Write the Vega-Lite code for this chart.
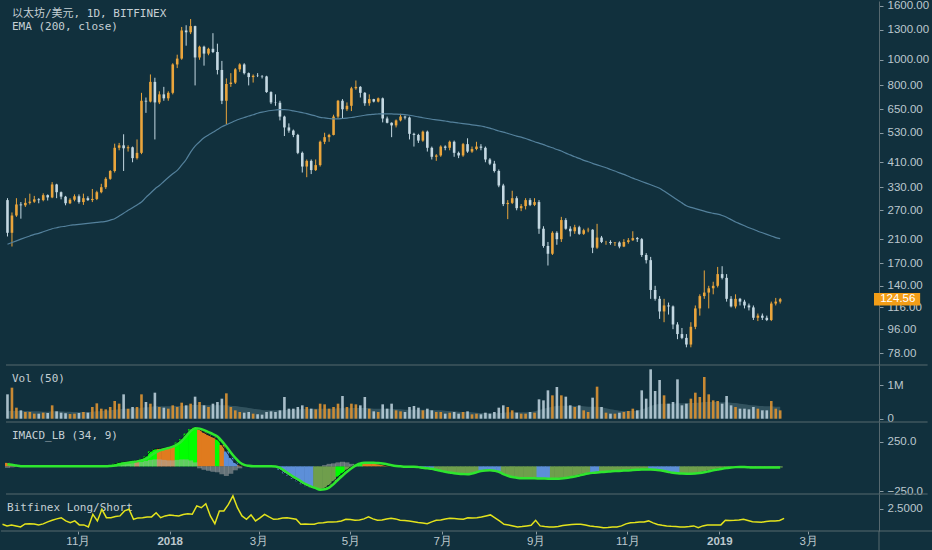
{
  "$schema": "https://vega.github.io/schema/vega-lite/v6.json",
  "background": "#11303d",
  "padding": {"left": 0, "top": -1, "right": 0, "bottom": 0},
  "spacing": 0,
  "bounds": "flush",
  "config": {
    "view": {"stroke": null},
    "axis": {"grid": false, "domain": true, "domainColor": "#56686f", "labelColor": "#bcc8ce", "labelFont": "Liberation Sans", "labelFontSize": 11.5, "tickColor": "#8a9aa2", "tickSize": 4, "labelPadding": 4, "title": null},
    "rule": {"color": "#56686f", "strokeWidth": 1},
    "text": {"font": "DejaVu Sans Mono, Noto Sans CJK SC", "fontSize": 11, "color": "#c5cfd4"}
  },
  "data": {"values": [
    {"d":"2017-09-12","o":295,"hi":300,"lo":215,"c":222,"v":0.73,"vm":0.22,"e":201,"m":35,"s":20,"g":-15,"k":"O","ls":1.72},
    {"d":"2017-09-15","o":222,"hi":265,"lo":197,"c":258,"v":0.93,"vm":0.23,"e":204,"m":20,"s":15,"g":-10,"k":"O","ls":1.64},
    {"d":"2017-09-18","o":258,"hi":300,"lo":255,"c":284,"v":0.33,"vm":0.23,"e":207,"m":5,"s":8,"g":-5,"k":"O","ls":1.69},
    {"d":"2017-09-21","o":284,"hi":290,"lo":251,"c":282,"v":0.25,"vm":0.23,"e":210,"m":0,"s":2,"g":0,"k":"L","ls":1.64},
    {"d":"2017-09-24","o":282,"hi":300,"lo":278,"c":288,"v":0.2,"vm":0.23,"e":213,"m":0,"s":0,"g":0,"k":"L","ls":1.59},
    {"d":"2017-09-27","o":288,"hi":312,"lo":284,"c":291,"v":0.2,"vm":0.23,"e":216,"m":0,"s":0,"g":0,"k":"L","ls":1.74},
    {"d":"2017-09-30","o":291,"hi":306,"lo":288,"c":297,"v":0.15,"vm":0.22,"e":219,"m":0,"s":0,"g":0,"k":"L","ls":1.75},
    {"d":"2017-10-03","o":297,"hi":300,"lo":287,"c":295,"v":0.15,"vm":0.22,"e":221,"m":0,"s":0,"g":0,"k":"L","ls":1.74},
    {"d":"2017-10-06","o":295,"hi":313,"lo":292,"c":308,"v":0.18,"vm":0.21,"e":224,"m":0,"s":0,"g":0,"k":"L","ls":1.69},
    {"d":"2017-10-09","o":308,"hi":310,"lo":294,"c":302,"v":0.17,"vm":0.21,"e":227,"m":0,"s":0,"g":0,"k":"L","ls":1.74},
    {"d":"2017-10-12","o":302,"hi":345,"lo":300,"c":338,"v":0.4,"vm":0.22,"e":230,"m":0,"s":0,"g":0,"k":"L","ls":1.84},
    {"d":"2017-10-15","o":338,"hi":340,"lo":300,"c":316,"v":0.22,"vm":0.22,"e":232,"m":0,"s":0,"g":0,"k":"L","ls":1.92},
    {"d":"2017-10-18","o":316,"hi":318,"lo":297,"c":304,"v":0.18,"vm":0.22,"e":234,"m":0,"s":0,"g":0,"k":"L","ls":1.99},
    {"d":"2017-10-21","o":304,"hi":306,"lo":282,"c":287,"v":0.16,"vm":0.21,"e":235,"m":0,"s":0,"g":0,"k":"L","ls":2.05},
    {"d":"2017-10-24","o":287,"hi":300,"lo":285,"c":296,"v":0.14,"vm":0.21,"e":237,"m":0,"s":0,"g":0,"k":"L","ls":1.89},
    {"d":"2017-10-27","o":296,"hi":310,"lo":292,"c":305,"v":0.15,"vm":0.2,"e":238,"m":0,"s":0,"g":0,"k":"L","ls":1.8},
    {"d":"2017-10-30","o":305,"hi":310,"lo":286,"c":290,"v":0.17,"vm":0.2,"e":239,"m":0,"s":0,"g":0,"k":"L","ls":1.89},
    {"d":"2017-11-02","o":290,"hi":312,"lo":283,"c":300,"v":0.2,"vm":0.2,"e":240,"m":0,"s":0,"g":0,"k":"L","ls":1.69},
    {"d":"2017-11-05","o":300,"hi":305,"lo":293,"c":295,"v":0.18,"vm":0.2,"e":241,"m":0,"s":0,"g":0,"k":"L","ls":1.69},
    {"d":"2017-11-08","o":295,"hi":325,"lo":290,"c":298,"v":0.35,"vm":0.21,"e":242,"m":0,"s":0,"g":0,"k":"L","ls":1.59},
    {"d":"2017-11-11","o":298,"hi":320,"lo":295,"c":316,"v":0.46,"vm":0.22,"e":243,"m":0,"s":0,"g":0,"k":"L","ls":2.22},
    {"d":"2017-11-14","o":316,"hi":340,"lo":313,"c":330,"v":0.3,"vm":0.23,"e":244,"m":0,"s":0,"g":0,"k":"L","ls":1.89},
    {"d":"2017-11-17","o":330,"hi":360,"lo":325,"c":355,"v":0.28,"vm":0.24,"e":245,"m":0,"s":0,"g":0,"k":"L","ls":2.47},
    {"d":"2017-11-20","o":355,"hi":383,"lo":352,"c":380,"v":0.35,"vm":0.25,"e":248,"m":5,"s":3,"g":2,"k":"L","ls":2.05},
    {"d":"2017-11-23","o":380,"hi":482,"lo":375,"c":465,"v":0.53,"vm":0.27,"e":251,"m":25,"s":8,"g":10,"k":"L","ls":2.05},
    {"d":"2017-11-26","o":465,"hi":485,"lo":455,"c":475,"v":0.45,"vm":0.28,"e":257,"m":40,"s":18,"g":20,"k":"L","ls":2.11},
    {"d":"2017-11-29","o":475,"hi":523,"lo":380,"c":463,"v":0.73,"vm":0.3,"e":263,"m":45,"s":28,"g":25,"k":"L","ls":2.14},
    {"d":"2017-12-02","o":463,"hi":475,"lo":450,"c":467,"v":0.3,"vm":0.3,"e":270,"m":50,"s":36,"g":30,"k":"L","ls":2.39},
    {"d":"2017-12-05","o":467,"hi":470,"lo":410,"c":425,"v":0.35,"vm":0.31,"e":276,"m":55,"s":44,"g":35,"k":"L","ls":2.47},
    {"d":"2017-12-08","o":425,"hi":500,"lo":420,"c":445,"v":0.35,"vm":0.31,"e":283,"m":60,"s":50,"g":40,"k":"O","ls":1.97},
    {"d":"2017-12-11","o":445,"hi":750,"lo":440,"c":700,"v":0.73,"vm":0.33,"e":290,"m":75,"s":60,"g":45,"k":"L","ls":2.04},
    {"d":"2017-12-14","o":700,"hi":720,"lo":630,"c":695,"v":0.5,"vm":0.34,"e":302,"m":100,"s":75,"g":55,"k":"L","ls":2.05},
    {"d":"2017-12-17","o":695,"hi":880,"lo":690,"c":825,"v":0.45,"vm":0.35,"e":313,"m":150,"s":105,"g":65,"k":"L","ls":2.09},
    {"d":"2017-12-20","o":825,"hi":855,"lo":500,"c":690,"v":0.78,"vm":0.37,"e":325,"m":175,"s":135,"g":70,"k":"L","ls":2.09},
    {"d":"2017-12-23","o":690,"hi":760,"lo":680,"c":740,"v":0.35,"vm":0.37,"e":335,"m":180,"s":158,"g":70,"k":"O","ls":2.3},
    {"d":"2017-12-26","o":740,"hi":790,"lo":700,"c":715,"v":0.33,"vm":0.37,"e":347,"m":185,"s":172,"g":65,"k":"O","ls":2.05},
    {"d":"2017-12-29","o":715,"hi":760,"lo":700,"c":750,"v":0.3,"vm":0.37,"e":359,"m":195,"s":185,"g":60,"k":"O","ls":2.14},
    {"d":"2018-01-01","o":750,"hi":970,"lo":740,"c":960,"v":0.4,"vm":0.38,"e":371,"m":205,"s":198,"g":60,"k":"O","ls":2.19},
    {"d":"2018-01-04","o":960,"hi":1045,"lo":930,"c":1010,"v":0.35,"vm":0.38,"e":382,"m":240,"s":220,"g":65,"k":"L","ls":2.16},
    {"d":"2018-01-07","o":1010,"hi":1330,"lo":1000,"c":1290,"v":0.48,"vm":0.39,"e":400,"m":275,"s":255,"g":70,"k":"L","ls":2.14},
    {"d":"2018-01-10","o":1290,"hi":1350,"lo":1130,"c":1270,"v":0.4,"vm":0.39,"e":420,"m":330,"s":305,"g":70,"k":"L","ls":2.21},
    {"d":"2018-01-13","o":1270,"hi":1425,"lo":1250,"c":1340,"v":0.45,"vm":0.4,"e":448,"m":375,"s":355,"g":60,"k":"L","ls":2.25},
    {"d":"2018-01-16","o":1340,"hi":1345,"lo":800,"c":1020,"v":0.66,"vm":0.41,"e":472,"m":395,"s":385,"g":40,"k":"L","ls":2.22},
    {"d":"2018-01-19","o":1020,"hi":1130,"lo":1000,"c":1120,"v":0.5,"vm":0.41,"e":490,"m":370,"s":380,"g":-20,"k":"O","ls":2.64},
    {"d":"2018-01-22","o":1120,"hi":1130,"lo":950,"c":1055,"v":0.4,"vm":0.41,"e":507,"m":340,"s":365,"g":-35,"k":"O","ls":2.55},
    {"d":"2018-01-25","o":1055,"hi":1110,"lo":1040,"c":1100,"v":0.35,"vm":0.4,"e":520,"m":315,"s":345,"g":-45,"k":"O","ls":2.75},
    {"d":"2018-01-28","o":1100,"hi":1260,"lo":1060,"c":1070,"v":0.45,"vm":0.4,"e":532,"m":295,"s":325,"g":-55,"k":"O","ls":2.14},
    {"d":"2018-01-31","o":1070,"hi":1150,"lo":880,"c":915,"v":0.5,"vm":0.4,"e":545,"m":270,"s":300,"g":-60,"k":"L","ls":1.75},
    {"d":"2018-02-03","o":915,"hi":990,"lo":680,"c":700,"v":0.6,"vm":0.4,"e":558,"m":215,"s":255,"g":-80,"k":"O","ls":2.39},
    {"d":"2018-02-06","o":700,"hi":850,"lo":570,"c":810,"v":0.76,"vm":0.4,"e":568,"m":150,"s":200,"g":-97,"k":"B","ls":2.39},
    {"d":"2018-02-09","o":810,"hi":890,"lo":790,"c":820,"v":0.35,"vm":0.39,"e":578,"m":85,"s":140,"g":-75,"k":"B","ls":2.72},
    {"d":"2018-02-12","o":820,"hi":930,"lo":810,"c":920,"v":0.25,"vm":0.38,"e":588,"m":35,"s":85,"g":-40,"k":"B","ls":3.14},
    {"d":"2018-02-15","o":920,"hi":970,"lo":900,"c":960,"v":0.2,"vm":0.36,"e":597,"m":10,"s":40,"g":-20,"k":"O","ls":2.55},
    {"d":"2018-02-18","o":960,"hi":970,"lo":880,"c":890,"v":0.18,"vm":0.34,"e":605,"m":0,"s":15,"g":-5,"k":"L","ls":2.14},
    {"d":"2018-02-21","o":890,"hi":895,"lo":800,"c":860,"v":0.2,"vm":0.32,"e":613,"m":0,"s":5,"g":0,"k":"L","ls":1.97},
    {"d":"2018-02-24","o":860,"hi":880,"lo":820,"c":870,"v":0.15,"vm":0.3,"e":620,"m":0,"s":0,"g":0,"k":"L","ls":2.19},
    {"d":"2018-02-27","o":870,"hi":890,"lo":860,"c":868,"v":0.13,"vm":0.28,"e":628,"m":0,"s":0,"g":0,"k":"L","ls":1.89},
    {"d":"2018-03-02","o":868,"hi":875,"lo":850,"c":865,"v":0.12,"vm":0.26,"e":634,"m":0,"s":0,"g":0,"k":"L","ls":2.04},
    {"d":"2018-03-05","o":865,"hi":870,"lo":750,"c":755,"v":0.2,"vm":0.25,"e":639,"m":0,"s":0,"g":0,"k":"L","ls":2.22},
    {"d":"2018-03-08","o":755,"hi":760,"lo":680,"c":690,"v":0.22,"vm":0.25,"e":643,"m":0,"s":0,"g":0,"k":"L","ls":2.09},
    {"d":"2018-03-11","o":690,"hi":740,"lo":670,"c":688,"v":0.2,"vm":0.25,"e":646,"m":-5,"s":-2,"g":0,"k":"B","ls":1.97},
    {"d":"2018-03-14","o":688,"hi":700,"lo":590,"c":610,"v":0.25,"vm":0.25,"e":648,"m":-35,"s":-15,"g":0,"k":"B","ls":1.99},
    {"d":"2018-03-17","o":610,"hi":615,"lo":515,"c":555,"v":0.65,"vm":0.26,"e":648,"m":-70,"s":-45,"g":0,"k":"B","ls":2.04},
    {"d":"2018-03-20","o":555,"hi":575,"lo":530,"c":540,"v":0.3,"vm":0.27,"e":646,"m":-95,"s":-75,"g":0,"k":"B","ls":2.05},
    {"d":"2018-03-23","o":540,"hi":545,"lo":510,"c":520,"v":0.3,"vm":0.27,"e":641,"m":-125,"s":-105,"g":0,"k":"B","ls":2.01},
    {"d":"2018-03-26","o":520,"hi":525,"lo":440,"c":445,"v":0.35,"vm":0.28,"e":636,"m":-150,"s":-130,"g":0,"k":"B","ls":1.97},
    {"d":"2018-03-29","o":445,"hi":450,"lo":375,"c":395,"v":0.4,"vm":0.29,"e":631,"m":-180,"s":-160,"g":0,"k":"B","ls":1.72},
    {"d":"2018-04-01","o":395,"hi":420,"lo":360,"c":415,"v":0.35,"vm":0.3,"e":626,"m":-200,"s":-185,"g":0,"k":"B","ls":1.74},
    {"d":"2018-04-04","o":415,"hi":420,"lo":370,"c":383,"v":0.3,"vm":0.3,"e":619,"m":-215,"s":-205,"g":0,"k":"B","ls":1.72},
    {"d":"2018-04-07","o":383,"hi":420,"lo":380,"c":400,"v":0.28,"vm":0.3,"e":613,"m":-225,"s":-220,"g":0,"k":"G","ls":1.72},
    {"d":"2018-04-10","o":400,"hi":495,"lo":395,"c":490,"v":0.45,"vm":0.3,"e":606,"m":-235,"s":-235,"g":0,"k":"G","ls":1.79},
    {"d":"2018-04-13","o":490,"hi":530,"lo":480,"c":510,"v":0.43,"vm":0.3,"e":603,"m":-220,"s":-232,"g":12,"k":"G","ls":1.8},
    {"d":"2018-04-16","o":510,"hi":525,"lo":490,"c":520,"v":0.3,"vm":0.3,"e":600,"m":-190,"s":-215,"g":25,"k":"G","ls":1.84},
    {"d":"2018-04-19","o":520,"hi":620,"lo":518,"c":610,"v":0.35,"vm":0.3,"e":598,"m":-150,"s":-180,"g":30,"k":"G","ls":1.84},
    {"d":"2018-04-22","o":610,"hi":705,"lo":600,"c":700,"v":0.45,"vm":0.31,"e":598,"m":-105,"s":-135,"g":40,"k":"L","ls":1.85},
    {"d":"2018-04-25","o":700,"hi":710,"lo":600,"c":650,"v":0.68,"vm":0.31,"e":600,"m":-70,"s":-95,"g":46,"k":"L","ls":1.89},
    {"d":"2018-04-28","o":650,"hi":690,"lo":640,"c":670,"v":0.35,"vm":0.31,"e":602,"m":-35,"s":-55,"g":40,"k":"G","ls":1.97},
    {"d":"2018-05-01","o":670,"hi":790,"lo":640,"c":780,"v":0.45,"vm":0.32,"e":605,"m":-5,"s":-20,"g":25,"k":"G","ls":1.96},
    {"d":"2018-05-04","o":780,"hi":835,"lo":770,"c":790,"v":0.43,"vm":0.32,"e":609,"m":20,"s":10,"g":12,"k":"L","ls":1.92},
    {"d":"2018-05-07","o":790,"hi":795,"lo":720,"c":750,"v":0.4,"vm":0.32,"e":613,"m":35,"s":28,"g":7,"k":"L","ls":1.94},
    {"d":"2018-05-10","o":750,"hi":755,"lo":670,"c":685,"v":0.65,"vm":0.32,"e":617,"m":38,"s":35,"g":0,"k":"O","ls":1.99},
    {"d":"2018-05-13","o":685,"hi":740,"lo":670,"c":710,"v":0.3,"vm":0.31,"e":620,"m":35,"s":37,"g":0,"k":"O","ls":2.09},
    {"d":"2018-05-16","o":710,"hi":712,"lo":690,"c":695,"v":0.22,"vm":0.3,"e":622,"m":30,"s":36,"g":0,"k":"O","ls":1.99},
    {"d":"2018-05-19","o":695,"hi":720,"lo":690,"c":715,"v":0.2,"vm":0.3,"e":624,"m":25,"s":33,"g":0,"k":"O","ls":1.92},
    {"d":"2018-05-22","o":715,"hi":720,"lo":580,"c":600,"v":0.43,"vm":0.3,"e":625,"m":15,"s":28,"g":0,"k":"O","ls":1.94},
    {"d":"2018-05-25","o":600,"hi":610,"lo":575,"c":578,"v":0.3,"vm":0.3,"e":625,"m":5,"s":20,"g":0,"k":"O","ls":1.99},
    {"d":"2018-05-28","o":578,"hi":580,"lo":510,"c":565,"v":0.45,"vm":0.3,"e":624,"m":0,"s":10,"g":0,"k":"L","ls":2.02},
    {"d":"2018-05-31","o":565,"hi":595,"lo":555,"c":590,"v":0.25,"vm":0.29,"e":623,"m":0,"s":3,"g":0,"k":"L","ls":1.99},
    {"d":"2018-06-03","o":590,"hi":625,"lo":585,"c":610,"v":0.22,"vm":0.28,"e":622,"m":0,"s":0,"g":0,"k":"L","ls":1.92},
    {"d":"2018-06-06","o":610,"hi":615,"lo":595,"c":605,"v":0.2,"vm":0.27,"e":621,"m":-5,"s":-3,"g":0,"k":"B","ls":1.91},
    {"d":"2018-06-09","o":605,"hi":610,"lo":500,"c":525,"v":0.35,"vm":0.27,"e":617,"m":-5,"s":-3,"g":0,"k":"B","ls":1.89},
    {"d":"2018-06-12","o":525,"hi":530,"lo":470,"c":520,"v":0.38,"vm":0.27,"e":613,"m":-5,"s":-3,"g":0,"k":"B","ls":1.85},
    {"d":"2018-06-15","o":520,"hi":525,"lo":485,"c":495,"v":0.33,"vm":0.27,"e":608,"m":-15,"s":-8,"g":0,"k":"B","ls":1.81},
    {"d":"2018-06-18","o":495,"hi":540,"lo":490,"c":535,"v":0.25,"vm":0.27,"e":604,"m":-20,"s":-15,"g":0,"k":"B","ls":1.79},
    {"d":"2018-06-21","o":535,"hi":540,"lo":450,"c":465,"v":0.3,"vm":0.27,"e":600,"m":-25,"s":-20,"g":0,"k":"B","ls":1.75},
    {"d":"2018-06-24","o":465,"hi":470,"lo":420,"c":430,"v":0.25,"vm":0.26,"e":596,"m":-30,"s":-25,"g":0,"k":"B","ls":1.84},
    {"d":"2018-06-27","o":430,"hi":440,"lo":415,"c":435,"v":0.2,"vm":0.25,"e":593,"m":-40,"s":-35,"g":0,"k":"G","ls":1.92},
    {"d":"2018-06-30","o":435,"hi":475,"lo":430,"c":470,"v":0.2,"vm":0.25,"e":590,"m":-50,"s":-45,"g":0,"k":"G","ls":1.94},
    {"d":"2018-07-03","o":470,"hi":475,"lo":455,"c":465,"v":0.15,"vm":0.24,"e":587,"m":-58,"s":-55,"g":0,"k":"G","ls":1.99},
    {"d":"2018-07-06","o":465,"hi":495,"lo":455,"c":490,"v":0.18,"vm":0.23,"e":583,"m":-62,"s":-62,"g":0,"k":"G","ls":2.02},
    {"d":"2018-07-09","o":490,"hi":495,"lo":430,"c":445,"v":0.2,"vm":0.22,"e":580,"m":-70,"s":-70,"g":0,"k":"G","ls":2.01},
    {"d":"2018-07-12","o":445,"hi":450,"lo":425,"c":435,"v":0.15,"vm":0.21,"e":577,"m":-75,"s":-75,"g":0,"k":"G","ls":1.99},
    {"d":"2018-07-15","o":435,"hi":485,"lo":430,"c":480,"v":0.2,"vm":0.2,"e":574,"m":-78,"s":-78,"g":0,"k":"G","ls":1.97},
    {"d":"2018-07-18","o":480,"hi":505,"lo":445,"c":450,"v":0.22,"vm":0.2,"e":571,"m":-80,"s":-80,"g":0,"k":"G","ls":2.05},
    {"d":"2018-07-21","o":450,"hi":470,"lo":445,"c":460,"v":0.13,"vm":0.19,"e":568,"m":-70,"s":-72,"g":0,"k":"G","ls":2.04},
    {"d":"2018-07-24","o":460,"hi":490,"lo":455,"c":470,"v":0.15,"vm":0.18,"e":565,"m":-58,"s":-60,"g":0,"k":"G","ls":2.05},
    {"d":"2018-07-27","o":470,"hi":480,"lo":455,"c":465,"v":0.13,"vm":0.17,"e":562,"m":-45,"s":-48,"g":0,"k":"B","ls":2.09},
    {"d":"2018-07-30","o":465,"hi":470,"lo":410,"c":420,"v":0.18,"vm":0.17,"e":557,"m":-40,"s":-42,"g":0,"k":"B","ls":2.14},
    {"d":"2018-08-02","o":420,"hi":425,"lo":400,"c":405,"v":0.15,"vm":0.16,"e":552,"m":-42,"s":-40,"g":0,"k":"B","ls":2.19},
    {"d":"2018-08-05","o":405,"hi":415,"lo":375,"c":380,"v":0.2,"vm":0.16,"e":545,"m":-50,"s":-45,"g":0,"k":"B","ls":2.04},
    {"d":"2018-08-08","o":380,"hi":385,"lo":330,"c":335,"v":0.33,"vm":0.17,"e":538,"m":-60,"s":-55,"g":0,"k":"B","ls":1.89},
    {"d":"2018-08-11","o":335,"hi":340,"lo":280,"c":285,"v":0.4,"vm":0.18,"e":533,"m":-80,"s":-78,"g":0,"k":"G","ls":1.72},
    {"d":"2018-08-14","o":285,"hi":295,"lo":250,"c":288,"v":0.35,"vm":0.19,"e":527,"m":-95,"s":-95,"g":0,"k":"G","ls":1.69},
    {"d":"2018-08-17","o":288,"hi":320,"lo":285,"c":300,"v":0.25,"vm":0.19,"e":521,"m":-108,"s":-108,"g":0,"k":"G","ls":1.64},
    {"d":"2018-08-20","o":300,"hi":305,"lo":270,"c":275,"v":0.18,"vm":0.19,"e":515,"m":-115,"s":-115,"g":0,"k":"G","ls":1.59},
    {"d":"2018-08-23","o":275,"hi":285,"lo":268,"c":280,"v":0.15,"vm":0.19,"e":510,"m":-120,"s":-121,"g":0,"k":"G","ls":1.61},
    {"d":"2018-08-26","o":280,"hi":300,"lo":272,"c":295,"v":0.15,"vm":0.19,"e":504,"m":-121,"s":-121,"g":0,"k":"G","ls":1.64},
    {"d":"2018-08-29","o":295,"hi":300,"lo":280,"c":283,"v":0.2,"vm":0.2,"e":497,"m":-121,"s":-121,"g":0,"k":"G","ls":1.67},
    {"d":"2018-09-01","o":283,"hi":300,"lo":280,"c":290,"v":0.18,"vm":0.22,"e":490,"m":-121,"s":-121,"g":0,"k":"G","ls":1.92},
    {"d":"2018-09-04","o":290,"hi":295,"lo":220,"c":230,"v":0.58,"vm":0.26,"e":484,"m":-122,"s":-122,"g":0,"k":"B","ls":1.64},
    {"d":"2018-09-07","o":230,"hi":235,"lo":195,"c":198,"v":0.55,"vm":0.3,"e":478,"m":-123,"s":-123,"g":0,"k":"B","ls":1.61},
    {"d":"2018-09-10","o":198,"hi":205,"lo":167,"c":185,"v":0.85,"vm":0.33,"e":471,"m":-124,"s":-124,"g":0,"k":"B","ls":1.59},
    {"d":"2018-09-13","o":185,"hi":225,"lo":183,"c":222,"v":0.7,"vm":0.36,"e":465,"m":-124,"s":-124,"g":0,"k":"G","ls":1.59},
    {"d":"2018-09-16","o":222,"hi":225,"lo":200,"c":210,"v":0.95,"vm":0.38,"e":458,"m":-123,"s":-124,"g":0,"k":"G","ls":1.61},
    {"d":"2018-09-19","o":210,"hi":255,"lo":205,"c":248,"v":0.7,"vm":0.39,"e":452,"m":-121,"s":-122,"g":0,"k":"G","ls":1.66},
    {"d":"2018-09-22","o":248,"hi":252,"lo":228,"c":230,"v":0.66,"vm":0.39,"e":444,"m":-115,"s":-118,"g":0,"k":"G","ls":1.69},
    {"d":"2018-09-25","o":230,"hi":235,"lo":215,"c":225,"v":0.4,"vm":0.39,"e":437,"m":-108,"s":-111,"g":0,"k":"G","ls":1.71},
    {"d":"2018-09-28","o":225,"hi":238,"lo":220,"c":233,"v":0.35,"vm":0.38,"e":430,"m":-98,"s":-102,"g":0,"k":"G","ls":1.72},
    {"d":"2018-10-01","o":233,"hi":236,"lo":218,"c":220,"v":0.4,"vm":0.38,"e":424,"m":-88,"s":-92,"g":0,"k":"G","ls":1.72},
    {"d":"2018-10-04","o":220,"hi":230,"lo":218,"c":227,"v":0.25,"vm":0.37,"e":417,"m":-78,"s":-82,"g":0,"k":"G","ls":1.69},
    {"d":"2018-10-07","o":227,"hi":232,"lo":223,"c":228,"v":0.2,"vm":0.36,"e":412,"m":-70,"s":-73,"g":0,"k":"G","ls":1.64},
    {"d":"2018-10-10","o":228,"hi":229,"lo":186,"c":195,"v":0.63,"vm":0.36,"e":406,"m":-64,"s":-66,"g":0,"k":"B","ls":1.61},
    {"d":"2018-10-13","o":195,"hi":240,"lo":193,"c":213,"v":0.96,"vm":0.36,"e":401,"m":-60,"s":-61,"g":0,"k":"B","ls":1.59},
    {"d":"2018-10-16","o":213,"hi":216,"lo":203,"c":205,"v":0.35,"vm":0.34,"e":396,"m":-57,"s":-58,"g":0,"k":"G","ls":1.55},
    {"d":"2018-10-19","o":205,"hi":207,"lo":200,"c":205,"v":0.18,"vm":0.31,"e":391,"m":-53,"s":-54,"g":0,"k":"G","ls":1.56},
    {"d":"2018-10-22","o":205,"hi":208,"lo":200,"c":203,"v":0.15,"vm":0.28,"e":385,"m":-50,"s":-51,"g":0,"k":"G","ls":1.59},
    {"d":"2018-10-25","o":203,"hi":205,"lo":198,"c":204,"v":0.15,"vm":0.26,"e":380,"m":-47,"s":-48,"g":0,"k":"G","ls":1.59},
    {"d":"2018-10-28","o":204,"hi":206,"lo":194,"c":197,"v":0.18,"vm":0.24,"e":374,"m":-45,"s":-46,"g":0,"k":"G","ls":1.64},
    {"d":"2018-10-31","o":197,"hi":210,"lo":196,"c":205,"v":0.2,"vm":0.23,"e":369,"m":-42,"s":-43,"g":0,"k":"G","ls":1.74},
    {"d":"2018-11-03","o":205,"hi":212,"lo":202,"c":208,"v":0.23,"vm":0.23,"e":363,"m":-40,"s":-41,"g":0,"k":"G","ls":1.8},
    {"d":"2018-11-06","o":208,"hi":225,"lo":207,"c":212,"v":0.3,"vm":0.23,"e":357,"m":-37,"s":-38,"g":0,"k":"G","ls":1.81},
    {"d":"2018-11-09","o":212,"hi":214,"lo":205,"c":210,"v":0.25,"vm":0.24,"e":352,"m":-34,"s":-35,"g":0,"k":"G","ls":1.84},
    {"d":"2018-11-12","o":210,"hi":212,"lo":180,"c":183,"v":0.85,"vm":0.28,"e":347,"m":-32,"s":-32,"g":0,"k":"G","ls":1.84},
    {"d":"2018-11-15","o":183,"hi":186,"lo":170,"c":175,"v":0.6,"vm":0.32,"e":342,"m":-30,"s":-31,"g":0,"k":"G","ls":1.89},
    {"d":"2018-11-18","o":175,"hi":180,"lo":125,"c":135,"v":1.48,"vm":0.38,"e":337,"m":-33,"s":-31,"g":0,"k":"B","ls":1.79},
    {"d":"2018-11-21","o":135,"hi":140,"lo":123,"c":125,"v":0.83,"vm":0.42,"e":332,"m":-38,"s":-34,"g":0,"k":"B","ls":1.71},
    {"d":"2018-11-24","o":125,"hi":128,"lo":105,"c":112,"v":1.16,"vm":0.44,"e":327,"m":-45,"s":-40,"g":0,"k":"B","ls":1.67},
    {"d":"2018-11-27","o":112,"hi":125,"lo":102,"c":118,"v":0.7,"vm":0.45,"e":319,"m":-54,"s":-48,"g":0,"k":"B","ls":1.64},
    {"d":"2018-11-30","o":118,"hi":121,"lo":109,"c":117,"v":0.45,"vm":0.45,"e":311,"m":-62,"s":-57,"g":0,"k":"B","ls":1.62},
    {"d":"2018-12-03","o":117,"hi":118,"lo":96,"c":100,"v":0.5,"vm":0.45,"e":303,"m":-70,"s":-65,"g":0,"k":"B","ls":1.61},
    {"d":"2018-12-06","o":100,"hi":102,"lo":88,"c":92,"v":1.18,"vm":0.46,"e":295,"m":-73,"s":-70,"g":0,"k":"B","ls":1.59},
    {"d":"2018-12-09","o":92,"hi":97,"lo":88,"c":89,"v":0.4,"vm":0.46,"e":288,"m":-74,"s":-73,"g":0,"k":"G","ls":1.59},
    {"d":"2018-12-12","o":89,"hi":92,"lo":82,"c":84,"v":0.45,"vm":0.47,"e":281,"m":-74,"s":-74,"g":0,"k":"G","ls":1.61},
    {"d":"2018-12-15","o":84,"hi":102,"lo":82,"c":98,"v":0.6,"vm":0.47,"e":277,"m":-74,"s":-74,"g":0,"k":"G","ls":1.64},
    {"d":"2018-12-18","o":98,"hi":118,"lo":96,"c":115,"v":0.78,"vm":0.48,"e":274,"m":-72,"s":-73,"g":0,"k":"G","ls":1.55},
    {"d":"2018-12-21","o":115,"hi":130,"lo":108,"c":128,"v":0.65,"vm":0.48,"e":271,"m":-65,"s":-68,"g":0,"k":"G","ls":1.64},
    {"d":"2018-12-24","o":128,"hi":160,"lo":125,"c":132,"v":1.25,"vm":0.5,"e":268,"m":-55,"s":-60,"g":0,"k":"G","ls":1.69},
    {"d":"2018-12-27","o":132,"hi":140,"lo":115,"c":137,"v":0.73,"vm":0.5,"e":265,"m":-45,"s":-50,"g":0,"k":"G","ls":1.69},
    {"d":"2018-12-30","o":137,"hi":145,"lo":130,"c":140,"v":0.55,"vm":0.5,"e":263,"m":-35,"s":-40,"g":0,"k":"G","ls":1.69},
    {"d":"2019-01-02","o":140,"hi":165,"lo":138,"c":155,"v":0.53,"vm":0.5,"e":261,"m":-28,"s":-32,"g":0,"k":"G","ls":1.69},
    {"d":"2019-01-05","o":155,"hi":166,"lo":148,"c":150,"v":0.45,"vm":0.49,"e":258,"m":-20,"s":-24,"g":0,"k":"G","ls":1.92},
    {"d":"2019-01-08","o":150,"hi":155,"lo":122,"c":125,"v":0.68,"vm":0.49,"e":254,"m":-13,"s":-17,"g":0,"k":"G","ls":1.91},
    {"d":"2019-01-11","o":125,"hi":128,"lo":116,"c":117,"v":0.4,"vm":0.48,"e":249,"m":-9,"s":-11,"g":0,"k":"G","ls":1.92},
    {"d":"2019-01-14","o":117,"hi":130,"lo":115,"c":125,"v":0.35,"vm":0.47,"e":244,"m":-7,"s":-8,"g":0,"k":"G","ls":1.94},
    {"d":"2019-01-17","o":125,"hi":126,"lo":118,"c":122,"v":0.3,"vm":0.45,"e":240,"m":-7,"s":-7,"g":0,"k":"G","ls":1.97},
    {"d":"2019-01-20","o":122,"hi":124,"lo":115,"c":118,"v":0.3,"vm":0.43,"e":236,"m":-9,"s":-8,"g":0,"k":"G","ls":1.91},
    {"d":"2019-01-23","o":118,"hi":120,"lo":113,"c":116,"v":0.28,"vm":0.41,"e":232,"m":-12,"s":-10,"g":0,"k":"G","ls":1.85},
    {"d":"2019-01-26","o":116,"hi":118,"lo":104,"c":106,"v":0.35,"vm":0.4,"e":229,"m":-13,"s":-12,"g":0,"k":"G","ls":1.84},
    {"d":"2019-01-29","o":106,"hi":110,"lo":103,"c":108,"v":0.3,"vm":0.39,"e":225,"m":-13,"s":-13,"g":0,"k":"G","ls":1.82},
    {"d":"2019-02-01","o":108,"hi":110,"lo":104,"c":106,"v":0.25,"vm":0.38,"e":222,"m":-13,"s":-13,"g":0,"k":"G","ls":1.86},
    {"d":"2019-02-04","o":106,"hi":108,"lo":103,"c":104,"v":0.25,"vm":0.37,"e":219,"m":-13,"s":-13,"g":0,"k":"G","ls":1.89},
    {"d":"2019-02-07","o":104,"hi":122,"lo":103,"c":120,"v":0.53,"vm":0.37,"e":216,"m":-13,"s":-13,"g":0,"k":"G","ls":1.89},
    {"d":"2019-02-10","o":120,"hi":126,"lo":118,"c":122,"v":0.3,"vm":0.36,"e":213,"m":-12,"s":-13,"g":0,"k":"G","ls":1.91},
    {"d":"2019-02-13","o":122,"hi":126,"lo":120,"c":124.56,"v":0.25,"vm":0.36,"e":211,"m":-12,"s":-12,"g":0,"k":"G","ls":2.02}
  ]},
  "vconcat": [
    {
      "width": 878,
      "height": 364,
      "layer": [
        {
          "mark": {"type": "rule", "strokeWidth": 1, "clip": true},
          "encoding": {
            "x": {"field": "d", "type": "temporal", "scale": {"type": "utc", "domain": [{"year": 2017, "month": 9, "date": 11, "utc": true}, {"year": 2019, "month": 4, "date": 17, "utc": true}]}, "axis": null},
            "y": {"field": "lo", "type": "quantitative", "scale": {"type": "log", "domain": [70.3, 1667], "nice": false},
                  "axis": {"orient": "right", "values": [78, 96, 116, 140, 170, 210, 270, 330, 410, 530, 650, 800, 1000, 1300, 1600], "format": ".2f"}},
            "y2": {"field": "hi"},
            "color": {"condition": {"test": "datum.c >= datum.o", "value": "#eaa53c"}, "value": "#c4d8e2"}
          }
        },
        {
          "mark": {"type": "bar", "width": 2.6, "clip": true},
          "encoding": {
            "x": {"field": "d", "type": "temporal"},
            "y": {"field": "o", "type": "quantitative"},
            "y2": {"field": "c"},
            "color": {"condition": {"test": "datum.c >= datum.o", "value": "#eaa53c"}, "value": "#c4d8e2"}
          }
        },
        {
          "mark": {"type": "line", "color": "#54819c", "strokeWidth": 1.2, "interpolate": "monotone", "clip": true},
          "encoding": {
            "x": {"field": "d", "type": "temporal"},
            "y": {"field": "e", "type": "quantitative"}
          }
        },
        {
          "data": {"values": [{"p": 70.3}]},
          "mark": {"type": "rule"},
          "encoding": {
            "x": {"datum": {"year": 2017, "month": 9, "date": 11, "utc": true}, "type": "temporal"},
            "x2": {"datum": {"year": 2019, "month": 5, "date": 23, "utc": true}},
            "y": {"field": "p", "type": "quantitative"}
          }
        },
        {
          "data": {"values": [{"t": "以太坊/美元, 1D, BITFINEX", "p": 1487}, {"t": "EMA (200, close)", "p": 1328}]},
          "mark": {"type": "text", "align": "left", "baseline": "middle"},
          "encoding": {
            "x": {"datum": {"year": 2017, "month": 9, "date": 15, "utc": true}, "type": "temporal"},
            "y": {"field": "p", "type": "quantitative"},
            "text": {"field": "t"}
          }
        },
        {
          "data": {"values": [{"p": 124.56}]},
          "mark": {"type": "rect", "color": "#f29d17"},
          "encoding": {
            "x": {"datum": {"year": 2019, "month": 4, "date": 17, "utc": true}, "type": "temporal"},
            "x2": {"datum": {"year": 2019, "month": 5, "date": 18, "utc": true}},
            "y": {"datum": 131.5, "type": "quantitative"},
            "y2": {"datum": 118}
          }
        },
        {
          "data": {"values": [{"p": 124.56}]},
          "mark": {"type": "text", "align": "center", "baseline": "middle", "font": "Liberation Sans", "fontSize": 11.5, "color": "#ffffff"},
          "encoding": {
            "x": {"datum": {"year": 2019, "month": 5, "date": 3, "utc": true}, "type": "temporal"},
            "y": {"field": "p", "type": "quantitative"},
            "text": {"field": "p", "format": ".2f"}
          }
        }
      ]
    },
    {
      "width": 878,
      "height": 57,
      "layer": [
        {
          "mark": {"type": "area", "color": "#7fa3ad", "opacity": 0.3, "interpolate": "monotone", "clip": true},
          "encoding": {
            "x": {"field": "d", "type": "temporal", "scale": {"type": "utc", "domain": [{"year": 2017, "month": 9, "date": 11, "utc": true}, {"year": 2019, "month": 4, "date": 17, "utc": true}]}, "axis": null},
            "y": {"field": "vm", "type": "quantitative", "scale": {"domain": [-0.1, 1.61], "nice": false, "zero": false},
                  "axis": {"orient": "right", "values": [0, 1], "labelExpr": "datum.value == 0 ? '0' : datum.value + 'M'"}}
          }
        },
        {
          "mark": {"type": "bar", "width": 2.6, "opacity": 0.9, "clip": true},
          "encoding": {
            "x": {"field": "d", "type": "temporal"},
            "y": {"field": "v", "type": "quantitative"},
            "y2": {"datum": 0},
            "color": {"condition": {"test": "datum.c >= datum.o", "value": "#dd9433"}, "value": "#b8cdd8"}
          }
        },
        {
          "data": {"values": [{"p": -0.1}]},
          "mark": {"type": "rule"},
          "encoding": {
            "x": {"datum": {"year": 2017, "month": 9, "date": 11, "utc": true}, "type": "temporal"},
            "x2": {"datum": {"year": 2019, "month": 5, "date": 23, "utc": true}},
            "y": {"field": "p", "type": "quantitative"}
          }
        },
        {
          "data": {"values": [{"t": "Vol (50)", "p": 1.18}]},
          "mark": {"type": "text", "align": "left", "baseline": "middle"},
          "encoding": {
            "x": {"datum": {"year": 2017, "month": 9, "date": 15, "utc": true}, "type": "temporal"},
            "y": {"field": "p", "type": "quantitative"},
            "text": {"field": "t"}
          }
        }
      ]
    },
    {
      "width": 878,
      "height": 72,
      "layer": [
        {
          "mark": {"type": "bar", "width": 5, "clip": true},
          "encoding": {
            "x": {"field": "d", "type": "temporal", "scale": {"type": "utc", "domain": [{"year": 2017, "month": 9, "date": 11, "utc": true}, {"year": 2019, "month": 4, "date": 17, "utc": true}]}, "axis": null},
            "y": {"field": "m", "type": "quantitative", "scale": {"domain": [-279, 447], "nice": false},
                  "axis": {"orient": "right", "values": [-250, 0, 250], "format": ".1f"}},
            "y2": {"datum": 0},
            "color": {"field": "k", "type": "nominal", "scale": {"domain": ["L", "O", "B", "G"], "range": ["#00ff00", "#e07b1e", "#5d8fd8", "#6f9e4c"]}, "legend": null}
          }
        },
        {
          "mark": {"type": "bar", "width": 5, "color": "#a9a9a9", "opacity": 0.55, "clip": true},
          "encoding": {
            "x": {"field": "d", "type": "temporal"},
            "y": {"field": "g", "type": "quantitative"},
            "y2": {"datum": 0}
          }
        },
        {
          "mark": {"type": "line", "color": "#0b1a20", "strokeWidth": 1, "interpolate": "monotone", "clip": true},
          "encoding": {
            "x": {"field": "d", "type": "temporal"},
            "y": {"field": "m", "type": "quantitative"}
          }
        },
        {
          "mark": {"type": "line", "color": "#2ee62e", "strokeWidth": 2.5, "interpolate": "monotone", "clip": true},
          "encoding": {
            "x": {"field": "d", "type": "temporal"},
            "y": {"field": "s", "type": "quantitative"}
          }
        },
        {
          "data": {"values": [{"p": -279}]},
          "mark": {"type": "rule"},
          "encoding": {
            "x": {"datum": {"year": 2017, "month": 9, "date": 11, "utc": true}, "type": "temporal"},
            "x2": {"datum": {"year": 2019, "month": 5, "date": 23, "utc": true}},
            "y": {"field": "p", "type": "quantitative"}
          }
        },
        {
          "data": {"values": [{"t": "IMACD_LB (34, 9)", "p": 305}]},
          "mark": {"type": "text", "align": "left", "baseline": "middle"},
          "encoding": {
            "x": {"datum": {"year": 2017, "month": 9, "date": 15, "utc": true}, "type": "temporal"},
            "y": {"field": "p", "type": "quantitative"},
            "text": {"field": "t"}
          }
        }
      ]
    },
    {
      "width": 878,
      "height": 37,
      "layer": [
        {
          "data": {"values": [{"t": "Bitfinex Long/Short", "p": 2.55}]},
          "mark": {"type": "text", "align": "left", "baseline": "middle"},
          "encoding": {
            "x": {"datum": {"year": 2017, "month": 9, "date": 15, "utc": true}, "type": "temporal",
                  "scale": {"type": "utc", "domain": [{"year": 2017, "month": 9, "date": 11, "utc": true}, {"year": 2019, "month": 4, "date": 17, "utc": true}]},
                  "axis": {"values": [
                    {"year": 2017, "month": 11, "date": 1, "utc": true},
                    {"year": 2018, "month": 1, "date": 1, "utc": true},
                    {"year": 2018, "month": 3, "date": 1, "utc": true},
                    {"year": 2018, "month": 5, "date": 1, "utc": true},
                    {"year": 2018, "month": 7, "date": 1, "utc": true},
                    {"year": 2018, "month": 9, "date": 1, "utc": true},
                    {"year": 2018, "month": 11, "date": 1, "utc": true},
                    {"year": 2019, "month": 1, "date": 1, "utc": true},
                    {"year": 2019, "month": 3, "date": 1, "utc": true}],
                    "labelExpr": "utcmonth(datum.value) == 0 ? utcFormat(datum.value, '%Y') : (utcmonth(datum.value) + 1) + '月'",
                    "labelFontWeight": {"condition": {"test": "utcmonth(datum.value) == 0", "value": "bold"}, "value": "normal"},
                    "domain": false, "tickSize": 3, "labelPadding": 1}},
            "y": {"field": "p", "type": "quantitative", "scale": {"domain": [1.385, 3.235], "nice": false, "zero": false},
                  "axis": {"orient": "right", "values": [2.5], "format": ".4f"}},
            "text": {"field": "t"}
          }
        },
        {
          "mark": {"type": "line", "color": "#e3e31c", "strokeWidth": 1.5, "clip": true},
          "encoding": {
            "x": {"field": "d", "type": "temporal"},
            "y": {"field": "ls", "type": "quantitative"}
          }
        },
        {
          "data": {"values": [{"p": 1.385}]},
          "mark": {"type": "rule"},
          "encoding": {
            "x": {"datum": {"year": 2017, "month": 9, "date": 11, "utc": true}, "type": "temporal"},
            "x2": {"datum": {"year": 2019, "month": 5, "date": 23, "utc": true}},
            "y": {"field": "p", "type": "quantitative"}
          }
        },
        {
          "data": {"values": [{"p": 1.385}]},
          "mark": {"type": "rule"},
          "encoding": {
            "x": {"datum": {"year": 2019, "month": 4, "date": 17, "utc": true}, "type": "temporal"},
            "y": {"field": "p", "type": "quantitative"},
            "y2": {"datum": 0.4}
          }
        }
      ]
    }
  ]
}
